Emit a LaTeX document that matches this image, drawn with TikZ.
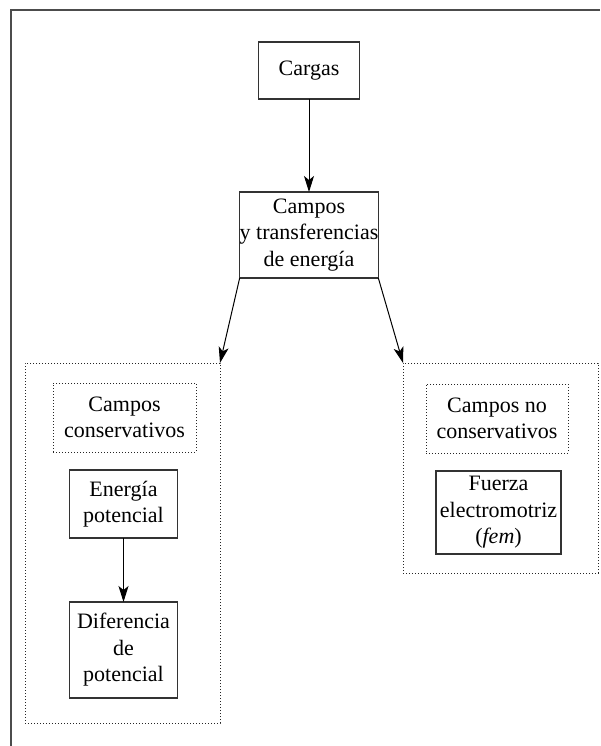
\documentclass[tikz,border=0pt]{standalone}
\usepackage{fontspec}
\setmainfont{Liberation Serif}
\usetikzlibrary{arrows.meta}
\tikzset{
  box/.style={draw=black!80, line width=1.1pt, inner sep=0pt, outer sep=0pt, align=center,
    font=\fontsize{22}{26.5}\selectfont, text=black},
  dotbox/.style={draw=black!85, line width=1pt, dash pattern=on 1pt off 2pt, inner sep=0pt, outer sep=0pt,
    align=center, font=\fontsize{22}{26.5}\selectfont, text=black},
  conn/.style={line width=1pt, -{Stealth[length=16pt,width=10pt,inset=4pt]}},
  frame/.style={line width=1.6pt, black!70}
}
\begin{document}
\begin{tikzpicture}[x=1pt,y=-1pt]
\useasboundingbox (0,0) rectangle (600,746);
\coordinate (fr) at (600,10);
\coordinate (fc) at (11,10);
\coordinate (fb) at (11,746);
\draw[frame] (fr) -- (fc) -- (fb);

\node[box, minimum width=101pt, minimum height=57pt] (cargas) at (309,70.5) {Cargas};
\node[box, minimum width=137pt, minimum height=86pt] (campos) at (309,235) {Campos\\y transferencias\\de energía};

\node[dotbox, minimum width=195pt, minimum height=360pt] (left) at (122.5,543) {};
\node[dotbox, minimum width=143pt, minimum height=69pt] (cons) at (124.5,417.5) {Campos\\conservativos};
\node[box, minimum width=108pt, minimum height=68pt] (energia) at (123.5,504) {Energía\\potencial};
\node[box, minimum width=108pt, minimum height=96pt] (dif) at (123.5,650) {Diferencia\\de\\potencial};

\node[dotbox, minimum width=195pt, minimum height=210pt] (right) at (500.5,468) {};
\node[dotbox, minimum width=142pt, minimum height=69pt] (nocons) at (497,418.5) {Campos no\\conservativos};
\node[box, minimum width=125pt, minimum height=83pt] (fuerza) at (498.5,512.5) {Fuerza\\electromotriz\\(\textit{fem})};

\draw[conn] (cargas.south) -- (campos.north);
\draw[conn] (campos.south west) -- (left.north east);
\draw[conn] (campos.south east) -- (right.north west);
\draw[conn] (energia.south) -- (dif.north);
\end{tikzpicture}
\end{document}
